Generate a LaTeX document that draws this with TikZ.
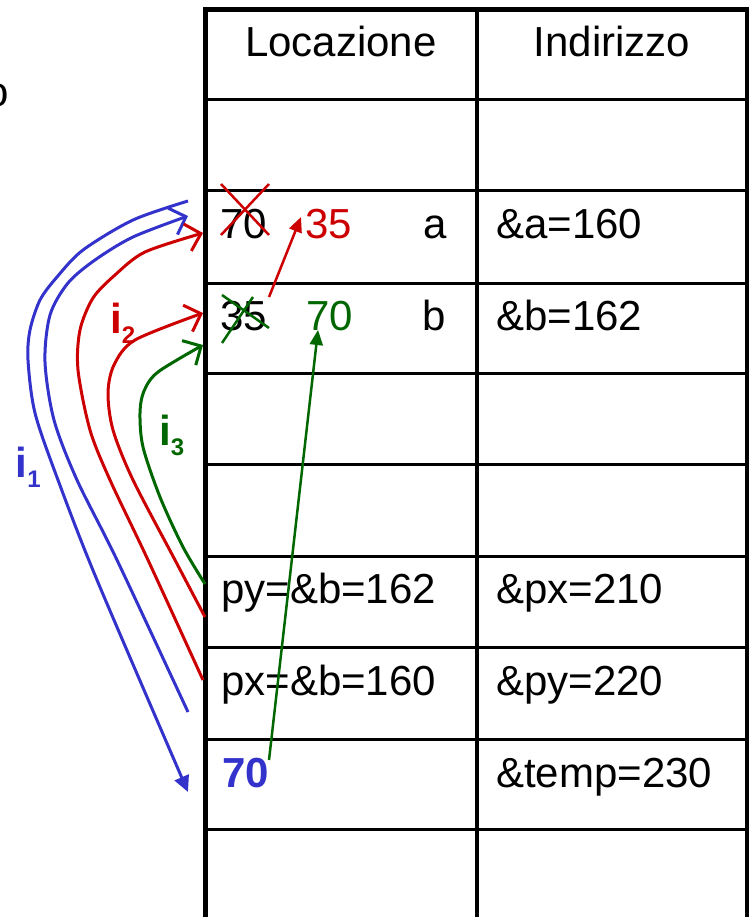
\documentclass[tikz,border=0pt]{standalone}
\usepackage{fontspec}
\setmainfont{Liberation Sans}
\usetikzlibrary{arrows.meta}
\definecolor{cblue}{RGB}{51,51,204}
\definecolor{cred}{RGB}{204,0,0}
\definecolor{cgreen}{RGB}{0,102,0}
\begin{document}
\begin{tikzpicture}[x=1pt,y=-1pt,
  txt/.style={inner sep=0pt, anchor=base west, font=\fontsize{42}{50}\selectfont},
  hdr/.style={inner sep=0pt, anchor=base, font=\fontsize{42}{50}\selectfont},
  lbl/.style={inner sep=0pt, anchor=base west, font=\fontsize{42}{50}\selectfont\bfseries},
  rowline/.style={line width=3pt},
  curve/.style={line width=3pt, -{Straight Barb[length=14pt,width=28pt]}},
  fcurve/.style={line width=3pt, -{Triangle[length=16pt,width=15pt]}},
  sarrow/.style={line width=2.5pt, -{Triangle[length=15pt,width=13pt]}},
  cross/.style={line width=2.5pt}]
\useasboundingbox (0,0) rectangle (749,917);
% table grid
\foreach \yy in {100,191,283,373,464,556,647,739,829}
  \draw[rowline] (205,\yy) -- (749,\yy);
\draw[line width=5pt] (203,9.5) -- (749,9.5);
\draw[line width=5pt] (205,7) -- (205,925);
\draw[line width=3.5pt] (477,9.5) -- (477,925);
\draw[line width=4pt] (747,9.5) -- (747,925);
% headers
\node[hdr] (hloc) at (341,57) {Locazione};
\node[hdr] (hind) at (612,57) {Indirizzo};
% cut-off letter at the left edge
\node[inner sep=0pt, anchor=base east, font=\fontsize{42}{50}\selectfont] (frag) at (9.5,107) {o};
% row a
\node[txt] (olda) at (220,238) {70};
\node[txt, text=cred] (newa) at (305,238) {35};
\node[txt] (na) at (423,238) {a};
\node[txt] (ada) at (496,238) {\&a=160};
% row b
\node[txt] (oldb) at (220,330) {35};
\node[txt, text=cgreen] (newb) at (306,330) {70};
\node[txt] (nb) at (422,330) {b};
\node[txt] (adb) at (496,330) {\&b=162};
% py, px, temp
\node[txt] (py) at (221,603) {py=\&b=162};
\node[txt] (adpx) at (496,603) {\&px=210};
\node[txt] (px) at (221,695) {px=\&b=160};
\node[txt] (adpy) at (496,695) {\&py=220};
\node[lbl, text=cblue] (temp) at (222,787) {70};
\node[txt] (adtemp) at (496,787) {\&temp=230};
% crosses
\draw[cross, cred] (221,184) -- (269,235);
\draw[cross, cred] (221,235) -- (269,184);
\draw[cross, cgreen] (222,295) -- (269,328);
\draw[cross, cgreen] (222,343) -- (253,297);
% straight arrows
\coordinate (rs) at (269,297);
\coordinate (re) at (301,217);
\draw[sarrow, cred] (rs) -- (re);
\coordinate (gs) at (269,760);
\coordinate (ge) at (318,330);
\draw[sarrow, cgreen] (gs) -- (ge);
% i1 curves (blue)
\draw[fcurve, cblue] plot[smooth] coordinates {(188,201) (133,220) (83,250) (57,277) (40,300) (30,330) (28,360) (35,413) (58,480) (97,580) (188,792)};
\draw[curve, cblue] plot[smooth] coordinates {(188,712) (117,560) (77,480) (54,420) (45,362) (50,315) (68,283) (95,260) (133,237) (188,216)};
% i2 curves (red)
\draw[curve, cred] plot[smooth] coordinates {(203,680) (148,560) (110,480) (90,430) (78,370) (80,330) (93,298) (115,275) (145,252) (203,233)};
\draw[curve, cred] plot[smooth] coordinates {(205,617) (175,560) (133,480) (113,430) (108,393) (114,365) (135,340) (203,313)};
% i3 curve (green)
\draw[curve, cgreen] plot[smooth] coordinates {(205,584) (183,547) (160,497) (143,447) (140,413) (144,391) (158,372) (203,345)};
% labels
\node[lbl, text=cblue] (i1) at (15.5,477) {i\raisebox{-10pt}{\fontsize{24}{24}\selectfont 1}};
\node[lbl, text=cred] (i2) at (110,333) {i\raisebox{-10pt}{\fontsize{24}{24}\selectfont 2}};
\node[lbl, text=cgreen] (i3) at (159,445) {i\raisebox{-10pt}{\fontsize{24}{24}\selectfont 3}};
\end{tikzpicture}
\end{document}
